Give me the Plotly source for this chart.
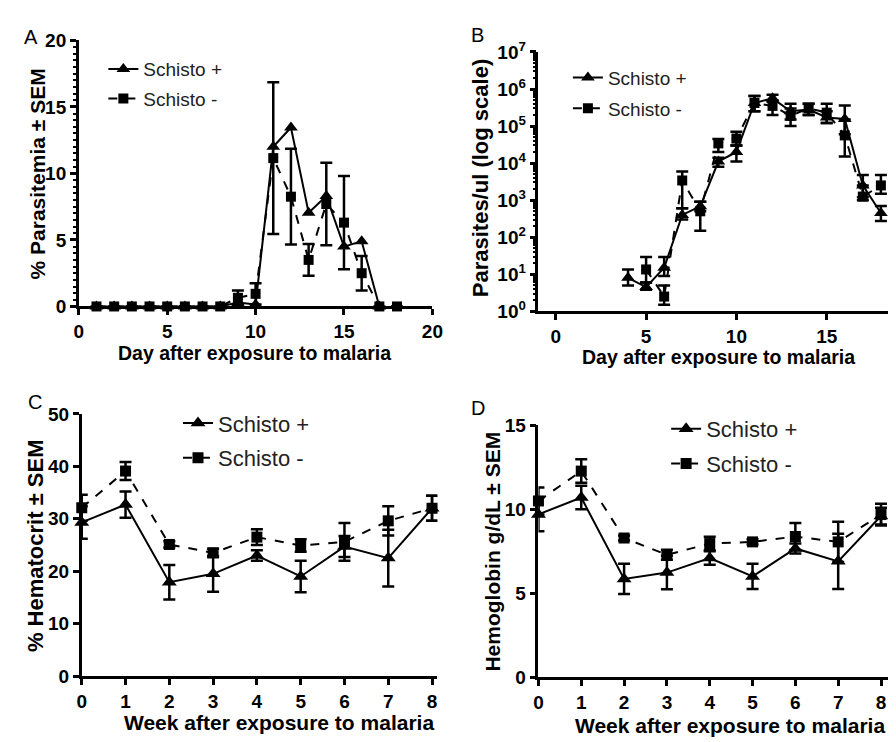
import plotly.graph_objects as go

# ---------------- Data ----------------
# Panel A: % parasitemia by day
days_a = list(range(1, 19))
a_pos = [0, 0, 0, 0, 0, 0, 0, 0, 0.3, 0.15, 12.0, 13.45, 7.05, 8.3, 4.5, 4.9, 0, None]
a_neg = [0, 0, 0, 0, 0, 0, 0, 0, 0.65, 0.95, 11.15, 8.25, 3.5, 7.7, 6.3, 2.5, 0, 0]
a_neg_sem = [0, 0, 0, 0, 0, 0, 0, 0, 0.55, 0.8, 5.7, 3.6, 1.2, 3.1, 3.5, 1.3, 0, 0]

# Panel B: parasites/ul (log scale)
days_b = list(range(4, 19))
b_pos = [8, 4.5, 15, 400, 680, 11000, 20000, 420000, 560000, 250000, 280000, 170000, 155000, 2500, 450]
b_pos_hi = [13.5, 6, 29, 600, 900, 14000, 30000, 650000, 700000, 400000, 400000, 250000, 360000, 4800, 700]
b_pos_lo = [5, 3.8, 9, 300, 500, 8000, 11000, 250000, 450000, 150000, 200000, 120000, 60000, 1200, 275]
b_neg = [None, 13.5, 2.5, 3400, 500, 34000, 46000, 420000, 350000, 190000, 300000, 230000, 56000, 1250, 2500]
b_neg_hi = [None, 29, 5, 5900, 900, 45000, 70000, 650000, 500000, 300000, 400000, 400000, 150000, 2500, 4800]
b_neg_lo = [None, 6, 1.5, 600, 150, 20000, 30000, 250000, 200000, 100000, 200000, 120000, 15000, 1000, 1500]

# Panel C: % hematocrit by week
weeks = list(range(0, 9))
c_pos = [29.3, 32.7, 17.9, 19.5, 23.0, 19.0, 24.7, 22.5, 32.0]
c_pos_sem = [3.1, 2.5, 3.3, 3.4, 1.0, 3.0, 2.0, 5.4, 2.4]
c_neg = [32.1, 39.1, 25.1, 23.5, 26.5, 24.9, 25.6, 29.6, 32.0]
c_neg_sem = [2.5, 1.7, 0.6, 0.8, 1.5, 1.2, 3.6, 2.8, 2.4]

# Panel D: hemoglobin g/dL by week
d_pos = [9.7, 10.7, 5.85, 6.23, 7.1, 6.0, 7.67, 6.9, 9.6]
d_pos_sem = [1.0, 0.7, 0.9, 1.0, 0.4, 0.75, 0.3, 1.65, 0.5]
d_neg = [10.5, 12.28, 8.29, 7.29, 7.96, 8.06, 8.38, 8.06, 9.69]
d_neg_sem = [0.8, 0.7, 0.15, 0.3, 0.4, 0.15, 0.8, 1.2, 0.65]

log_ticks = [10 ** k for k in range(0, 8)]
log_ticktext = ["10<sup>%d</sup>" % k for k in range(0, 8)]

FONT = "Arial, Liberation Sans, sans-serif"
BLACK = "black"

fig = go.Figure()


def add_pair(xs, ypos, yneg, xa, ya, leg, epos=None, eneg=None, msize=11):
    fig.add_trace(go.Scatter(
        x=xs, y=ypos, name="Schisto +", mode="lines+markers",
        line=dict(color=BLACK, width=2),
        marker=dict(symbol="triangle-up", size=msize + 2, color=BLACK),
        error_y=epos, xaxis=xa, yaxis=ya, legend=leg, legendgroup=leg + "p",
        cliponaxis=False, connectgaps=False,
    ))
    fig.add_trace(go.Scatter(
        x=xs, y=yneg, name="Schisto -", mode="lines+markers",
        line=dict(color=BLACK, width=2, dash="dash"),
        marker=dict(symbol="square", size=msize, color=BLACK),
        error_y=eneg, xaxis=xa, yaxis=ya, legend=leg, legendgroup=leg + "n",
        cliponaxis=False, connectgaps=True,
    ))


def eb_sym(arr):
    return dict(type="data", array=arr, visible=True, color=BLACK, thickness=2.5, width=6)


def eb_asym(val, hi, lo):
    up = [None if v is None else h - v for v, h in zip(val, hi)]
    dn = [None if v is None else v - l for v, l in zip(val, lo)]
    return dict(type="data", symmetric=False, array=up, arrayminus=dn,
                visible=True, color=BLACK, thickness=2.5, width=6)


add_pair(days_a, a_pos, a_neg, "x", "y", "legend", None, eb_sym(a_neg_sem), msize=10)
add_pair(days_b, b_pos, b_neg, "x2", "y2", "legend2",
         eb_asym(b_pos, b_pos_hi, b_pos_lo), eb_asym(b_neg, b_neg_hi, b_neg_lo), msize=10)
add_pair(weeks, c_pos, c_neg, "x3", "y3", "legend3", eb_sym(c_pos_sem), eb_sym(c_neg_sem), msize=11)
add_pair(weeks, d_pos, d_neg, "x4", "y4", "legend4", eb_sym(d_pos_sem), eb_sym(d_neg_sem), msize=11)

W, H = 896, 742


def px(v):
    return v / W


def py(v):
    return 1 - v / H


tickfont = dict(family=FONT, size=19, color=BLACK, weight="bold")
axcommon = dict(showline=True, linecolor=BLACK, linewidth=2.5, ticks="outside",
                ticklen=6, tickwidth=2.5, tickcolor=BLACK, showgrid=False,
                zeroline=False, tickfont=tickfont)

fig.update_layout(
    width=W, height=H, margin=dict(l=0, r=0, t=0, b=0),
    paper_bgcolor="white", plot_bgcolor="white",
    font=dict(family=FONT, color=BLACK),
    xaxis=dict(domain=[px(67), px(427)], range=[0, 20], tickvals=[0, 5, 10, 15, 20],
               anchor="y", **axcommon),
    yaxis=dict(domain=[py(295), py(20)], range=[0, 20], tickvals=[0, 5, 10, 15, 20],
               anchor="x", minor=dict(ticks="outside", ticklen=3, tickwidth=1.5,
                                      tickcolor=BLACK, dtick=0.5), **axcommon),
    xaxis2=dict(domain=[px(535), 1.0], range=[-0.96, 18.67], tickvals=[0, 5, 10, 15],
                anchor="y2", **axcommon),
    yaxis2=dict(domain=[py(300), py(32)], type="log", range=[0, 7], tickvals=log_ticks,
                ticktext=log_ticktext, anchor="x2",
                minor=dict(ticks="outside", ticklen=3, tickwidth=1.5, tickcolor=BLACK,
                           dtick="D1"), **axcommon),
    xaxis3=dict(domain=[px(70), px(432)], range=[0, 8.12], tickvals=weeks,
                anchor="y3", **axcommon),
    yaxis3=dict(domain=[py(677), py(406)], range=[0, 50], tickvals=[0, 10, 20, 30, 40, 50],
                anchor="x3", **axcommon),
    xaxis4=dict(domain=[px(535), 1.0], range=[0, 8.28], tickvals=weeks,
                anchor="y4", **axcommon),
    yaxis4=dict(domain=[py(678), py(418)], range=[0, 15], tickvals=[0, 5, 10, 15],
                anchor="x4", **axcommon),
)

legfont_small = dict(family=FONT, size=19, color="#222")
legfont_big = dict(family=FONT, size=22, color="#222")
fig.update_layout(
    legend=dict(x=px(92), y=py(30), xanchor="left", yanchor="top", font=legfont_small,
                bgcolor="rgba(0,0,0,0)", tracegroupgap=2, itemwidth=30),
    legend2=dict(x=px(565), y=py(39), xanchor="left", yanchor="top", font=legfont_small,
                 bgcolor="rgba(0,0,0,0)", tracegroupgap=3, itemwidth=30),
    legend3=dict(x=px(168), y=py(394), xanchor="left", yanchor="top", font=legfont_big,
                 bgcolor="rgba(0,0,0,0)", tracegroupgap=3, itemwidth=30),
    legend4=dict(x=px(665), y=py(400), xanchor="left", yanchor="top", font=legfont_big,
                 bgcolor="rgba(0,0,0,0)", tracegroupgap=3, itemwidth=30),
)

xtitle_ab = dict(family=FONT, size=19.5, color=BLACK, weight="bold")
xtitle_cd = dict(family=FONT, size=21, color=BLACK, weight="bold")
ytitle_a = dict(family=FONT, size=21, color=BLACK, weight="bold")
ytitle = dict(family=FONT, size=22, color=BLACK, weight="bold")
labelfont = dict(family=FONT, size=20, color=BLACK)
annots = [
    # panel letters
    dict(text="A", x=px(18), y=py(17), font=labelfont),
    dict(text="B", x=px(473), y=py(14), font=labelfont),
    dict(text="C", x=px(22), y=py(394), font=labelfont),
    dict(text="D", x=px(473), y=py(400), font=labelfont),
    # axis titles
    dict(text="Day after exposure to malaria", x=px(246), y=py(343), font=xtitle_ab),
    dict(text="% Parasitemia ± SEM", x=px(25), y=py(158), font=ytitle_a, textangle=-90),
    dict(text="Day after exposure to malaria", x=px(718), y=py(347), font=xtitle_ab),
    dict(text="Parasites/ul (log scale)", x=px(476), y=py(163), font=ytitle, textangle=-90),
    dict(text="Week after exposure to malaria", x=px(271), y=py(725), font=xtitle_cd),
    dict(text="% Hematocrit ± SEM", x=px(23), y=py(542), font=ytitle, textangle=-90),
    dict(text="Week after exposure to malaria", x=px(730), y=py(728), font=xtitle_cd),
    dict(text="Hemoglobin g/dL ± SEM", x=px(488), y=py(548), font=ytitle_a, textangle=-90),
]
for a in annots:
    a.update(xref="paper", yref="paper", showarrow=False, xanchor="center", yanchor="middle")
fig.update_layout(annotations=annots)

fig.write_html("out.html")
